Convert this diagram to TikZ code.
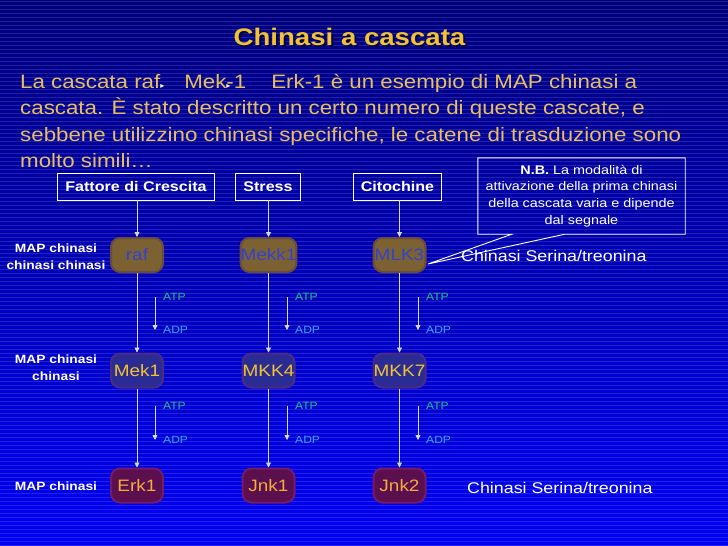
\documentclass[tikz,border=0pt]{standalone}
\usepackage{fontspec}
\setmainfont[FakeStretch=1.15]{Liberation Sans}
\newfontfamily\symfont{DejaVu Sans}
\usetikzlibrary{arrows.meta}

\definecolor{bgtop}{HTML}{00007C}
\definecolor{bgbot}{HTML}{0000F4}
\definecolor{gold}{HTML}{F2C232}
\definecolor{bodytext}{HTML}{E8BE62}
\definecolor{olivebox}{HTML}{7C6232}
\definecolor{oliveedge}{HTML}{6A4A3A}
\definecolor{navybox}{HTML}{2A2C94}
\definecolor{plumedge}{HTML}{4A2A88}
\definecolor{winebox}{HTML}{5C0F4E}
\definecolor{wineedge}{HTML}{741A66}
\definecolor{kinblue}{HTML}{3442CC}
\definecolor{ambertext}{HTML}{F2AE38}
\definecolor{atpcol}{HTML}{1FC08A}
\definecolor{adpcol}{HTML}{3DA4FF}

\newcommand{\smalltip}{{\symfont\fontsize{8}{8}\selectfont\color{white}▸}}

\tikzset{
  kinase/.style={rounded corners=9pt, minimum width=52pt, minimum height=34pt,
    inner sep=0pt, line width=2pt, font=\fontsize{16.5}{16.5}\selectfont},
  mapkkk/.style={kinase, fill=olivebox, draw=oliveedge, text=kinblue},
  mapkk/.style={kinase, fill=navybox, draw=plumedge, text=gold},
  mapk/.style={kinase, fill=winebox, draw=wineedge, text=ambertext},
  signalbox/.style={draw=white, line width=0.9pt, inner xsep=7.5pt, inner ysep=0pt,
    minimum height=27pt, text=white, font=\bfseries\fontsize{14}{14}\selectfont},
  levellabel/.style={text=white, align=center, inner sep=0pt,
    font=\bfseries\fontsize{12}{17}\selectfont},
  bodyline/.style={anchor=base west, inner sep=0pt, text=bodytext,
    font=\fontsize{19.4}{19.4}\selectfont},
  phospho/.style={anchor=west, inner sep=0pt, font=\fontsize{10.5}{10.5}\selectfont},
  flow/.style={white!85!blue, line width=0.8pt, -{Triangle[width=5pt,length=5pt]}},
  serthr/.style={anchor=west, inner sep=0pt, text=white, font=\fontsize{15.5}{15.5}\selectfont},
}

\begin{document}
\begin{tikzpicture}[x=1pt, y=-1pt]
    \shade[top color=bgtop, bottom color=bgbot] (0,0) rectangle (728,546);
    \useasboundingbox (0,0) rectangle (728,546);
    \foreach \s in {1,5,...,545}
        \draw[white, opacity=0.13, line width=0.8pt] (0,\s) -- (728,\s);

    % title and text
    \node[text=black!70!blue, font=\bfseries\fontsize{24}{24}\selectfont] at (351.5,39) {Chinasi a cascata};
    \node[text=gold, font=\bfseries\fontsize{24}{24}\selectfont] (title) at (349.5,37) {Chinasi a cascata};
    \node[bodyline] (line1) at (20,88) {La cascata raf\smalltip\hspace{20pt}Mek\rlap{\smalltip}-1\hspace{25pt}Erk-1 è un esempio di MAP chinasi a};
    \node[bodyline] (line2) at (20,114.5) {cascata. È stato descritto un certo numero di queste cascate, e};
    \node[bodyline] (line3) at (20,141) {sebbene utilizzino chinasi specifiche, le catene di trasduzione sono};
    \node[bodyline] (line4) at (20,167) {molto simili\ldots};

    % signals
    \node[signalbox] (gf) at (136,186.5) {Fattore di Crescita};
    \node[signalbox] (stress) at (268,186.5) {Stress};
    \node[signalbox] (cyto) at (397.5,186.5) {Citochine};

    % levels
    \node[levellabel] (lvl3) at (56,256.5) {MAP chinasi\\chinasi chinasi};
    \node[levellabel] (lvl2) at (56,367.5) {MAP chinasi\\chinasi};
    \node[levellabel] (lvl1) at (56,486) {MAP chinasi};

    % kinases
    \node[mapkkk] (raf) at (137,255) {raf};
    \node[mapkkk] (mekk1) at (268.5,255) {Mekk1};
    \node[mapkkk] (mlk3) at (399.5,255) {MLK3};
    \node[mapkk] (mek1) at (137,370.5) {Mek1};
    \node[mapkk] (mkk4) at (268.5,370.5) {MKK4};
    \node[mapkk] (mkk7) at (399.5,370.5) {MKK7};
    \node[mapk] (erk1) at (137,485.5) {Erk1};
    \node[mapk] (jnk1) at (268.5,485.5) {Jnk1};
    \node[mapk] (jnk2) at (399.5,485.5) {Jnk2};

    \draw[flow] (gf.south -| raf) -- (raf);
    \draw[flow] (stress.south -| mekk1) -- (mekk1);
    \draw[flow] (cyto.south -| mlk3) -- (mlk3);
    \draw[flow] (raf) -- (mek1);
    \draw[flow] (mekk1) -- (mkk4);
    \draw[flow] (mlk3) -- (mkk7);
    \draw[flow] (mek1) -- (erk1);
    \draw[flow] (mkk4) -- (jnk1);
    \draw[flow] (mkk7) -- (jnk2);

    % ATP -> ADP
    \node[phospho, text=atpcol] (atpA) at (163,297) {ATP};
    \node[phospho, text=adpcol] (adpA) at (163,330) {ADP};
    \node[phospho, text=atpcol] (atpB) at (295,297) {ATP};
    \node[phospho, text=adpcol] (adpB) at (295,330) {ADP};
    \node[phospho, text=atpcol] (atpC) at (426,297) {ATP};
    \node[phospho, text=adpcol] (adpC) at (426,330) {ADP};
    \node[phospho, text=atpcol] (atpD) at (163,406) {ATP};
    \node[phospho, text=adpcol] (adpD) at (163,440) {ADP};
    \node[phospho, text=atpcol] (atpE) at (295,406) {ATP};
    \node[phospho, text=adpcol] (adpE) at (295,440) {ADP};
    \node[phospho, text=atpcol] (atpF) at (426,406) {ATP};
    \node[phospho, text=adpcol] (adpF) at (426,440) {ADP};
    \draw[flow] ([xshift=-8pt]atpA.west) -- ([xshift=-8pt]adpA.west);
    \draw[flow] ([xshift=-8pt]atpB.west) -- ([xshift=-8pt]adpB.west);
    \draw[flow] ([xshift=-8pt]atpC.west) -- ([xshift=-8pt]adpC.west);
    \draw[flow] ([xshift=-8pt]atpD.west) -- ([xshift=-8pt]adpD.west);
    \draw[flow] ([xshift=-8pt]atpE.west) -- ([xshift=-8pt]adpE.west);
    \draw[flow] ([xshift=-8pt]atpF.west) -- ([xshift=-8pt]adpF.west);

    % Ser/Thr labels and note
    \node[serthr] (serthr1) at (461,256) {Chinasi Serina/treonina};
    \node[serthr] (serthr2) at (467,488) {Chinasi Serina/treonina};
    \node[text=white, align=center, inner sep=0pt, minimum width=207pt, minimum height=76pt,
        font=\fontsize{12.5}{16.7}\selectfont] (nb) at (581.5,196)
        {\textbf{N.B.} La modalità di\\attivazione della prima chinasi\\della cascata varia e dipende\\dal segnale};
    \coordinate (tip) at (428,264);
    \draw[white, line width=0.9pt] (nb.south west) -- ++(34,0) -- (tip)
        -- ([xshift=87pt]nb.south west) -- (nb.south east) -- (nb.north east)
        -- (nb.north west) -- cycle;
\end{tikzpicture}
\end{document}
